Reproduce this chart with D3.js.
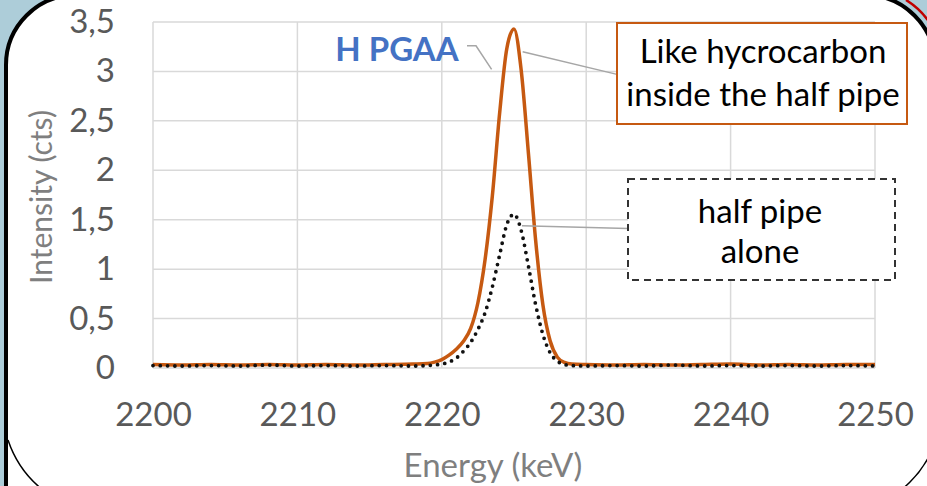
<!DOCTYPE html>
<html>
<head>
<meta charset="utf-8">
<script src="https://cdn.jsdelivr.net/npm/d3@7"></script>
<style>
  html, body { margin: 0; padding: 0; background: #adcdd9; }
  svg { display: block; }
  text { font-family: Lato, "Open Sans", sans-serif; }
</style>
</head>
<body>
<svg id="chart" width="927" height="486"></svg>
<script>
// ---------------- data ----------------
const hydroEnergy = [2200, 2202, 2204, 2206, 2208, 2210, 2212, 2214, 2216, 2218, 2219, 2219.5, 2220, 2220.5, 2221, 2221.5, 2222, 2222.5, 2223, 2223.5, 2224, 2224.5, 2225, 2225.5, 2226, 2226.5, 2227, 2227.5, 2228, 2228.5, 2229, 2230, 2232, 2234, 2236, 2238, 2240, 2242, 2244, 2246, 2248, 2250];
const hydroCounts = [0.035, 0.03, 0.035, 0.03, 0.035, 0.03, 0.035, 0.03, 0.035, 0.04, 0.045, 0.06, 0.085, 0.13, 0.19, 0.27, 0.40, 0.66, 1.10, 1.74, 2.57, 3.23, 3.43, 3.01, 2.17, 1.29, 0.64, 0.275, 0.11, 0.056, 0.04, 0.035, 0.03, 0.035, 0.03, 0.035, 0.04, 0.03, 0.035, 0.03, 0.035, 0.035];

const pipeEnergy = [2200, 2202, 2204, 2206, 2208, 2210, 2212, 2214, 2216, 2218, 2219, 2219.5, 2220, 2220.5, 2221, 2221.5, 2222, 2222.5, 2223, 2223.5, 2224, 2224.5, 2225, 2225.5, 2226, 2226.5, 2227, 2227.5, 2228, 2228.5, 2229, 2230, 2232, 2234, 2236, 2238, 2240, 2242, 2244, 2246, 2248, 2250];
const pipeCounts = [0.025, 0.02, 0.025, 0.02, 0.03, 0.02, 0.025, 0.02, 0.025, 0.02, 0.025, 0.03, 0.04, 0.06, 0.10, 0.17, 0.26, 0.39, 0.56, 0.82, 1.14, 1.45, 1.555, 1.39, 1.03, 0.64, 0.34, 0.155, 0.07, 0.035, 0.025, 0.02, 0.025, 0.02, 0.03, 0.02, 0.025, 0.02, 0.025, 0.02, 0.025, 0.02];

const xTicks = [2200, 2210, 2220, 2230, 2240, 2250];
const yTicks = [0, 0.5, 1, 1.5, 2, 2.5, 3, 3.5];
const yTickLabels = ["0", "0,5", "1", "1,5", "2", "2,5", "3", "3,5"];

const xTitle = "Energy (keV)";
const yTitle = "Intensity (cts)";
const peakLabel = "H PGAA";
const hydroNote = ["Like hycrocarbon", "inside the half pipe"];
const pipeNote = ["half pipe", "alone"];

// ---------------- drawing ----------------
const svg = d3.select("#chart");
const W = 927, H = 486;
const plot = { left: 153, right: 875, top: 22, bottom: 368 };

const x = d3.scaleLinear().domain([2200, 2250]).range([plot.left, plot.right]);
const y = d3.scaleLinear().domain([0, 3.5]).range([plot.bottom, plot.top]);

// background + slide panel
svg.append("rect").attr("width", W).attr("height", H).attr("fill", "#adcdd9");
svg.append("rect").attr("x", 6).attr("y", -5).attr("width", 929).attr("height", 620)
  .attr("rx", 70).attr("ry", 70).attr("fill", "#ffffff").attr("stroke", "#000").attr("stroke-width", 4);
svg.append("path").attr("d", "M 906 0 A 78 78 0 0 1 943 65")
  .attr("fill", "none").attr("stroke", "#c00000").attr("stroke-width", 2.5);
svg.append("path").attr("d", "M 8 440 A 107.5 107.5 0 0 0 110 513.5 L 834 513.5 A 107.5 107.5 0 0 0 941.5 406")
  .attr("fill", "none").attr("stroke", "#000").attr("stroke-width", 1.5);

// gridlines
const grid = svg.append("g").attr("stroke", "#d9d9d9").attr("stroke-width", 1.5);
grid.selectAll("line.v").data(xTicks).join("line").attr("class", "v")
  .attr("x1", d => x(d)).attr("x2", d => x(d)).attr("y1", y(3.5)).attr("y2", y(0));
grid.selectAll("line.h").data(yTicks).join("line").attr("class", "h")
  .attr("x1", x(2200)).attr("x2", x(2250)).attr("y1", d => y(d)).attr("y2", d => y(d));

// axes (labels only, Excel style)
const yAxis = d3.axisLeft(y).tickValues(yTicks).tickSize(0).tickPadding(38)
  .tickFormat((d, i) => yTickLabels[i]);
const gy = svg.append("g").attr("transform", `translate(${plot.left},0)`).call(yAxis);
gy.select(".domain").remove();
gy.selectAll("text").attr("fill", "#595959").attr("font-size", 33).attr("font-family", "Lato");

const xAxis = d3.axisBottom(x).tickValues(xTicks).tickSize(0).tickPadding(35).tickFormat(d3.format("d"));
const gx = svg.append("g").attr("transform", `translate(0,${plot.bottom})`).call(xAxis);
gx.select(".domain").remove();
gx.selectAll("text").attr("fill", "#595959").attr("font-size", 33).attr("font-family", "Lato");

// axis titles
svg.append("text").attr("x", 493).attr("y", 477).attr("text-anchor", "middle")
  .attr("fill", "#7f7f7f").attr("font-size", 33).text(xTitle);
svg.append("text").attr("transform", "translate(52,197) rotate(-90)").attr("text-anchor", "middle")
  .attr("fill", "#7f7f7f").attr("font-size", 30).text(yTitle);

// series
const hydro = hydroEnergy.map((e, i) => [e, hydroCounts[i]]);
const pipe = pipeEnergy.map((e, i) => [e, pipeCounts[i]]);
const line = d3.line().x(d => x(d[0])).y(d => y(d[1])).curve(d3.curveMonotoneX);

svg.append("path").datum(hydro).attr("d", line).attr("fill", "none")
  .attr("stroke", "#c65911").attr("stroke-width", 3.5).attr("stroke-linejoin", "round");
svg.append("path").datum(pipe).attr("d", line).attr("fill", "none")
  .attr("stroke", "#111").attr("stroke-width", 3.8).attr("stroke-linecap", "round")
  .attr("stroke-dasharray", "0 7.3");

// callouts
const leader = svg.append("g").attr("fill", "none").attr("stroke", "#a6a6a6").attr("stroke-width", 1.5);
leader.append("path").attr("d", `M 467 ${y(3.26)} L 476 ${y(3.26)} L ${x(2223.45)} ${y(3.02)}`);
leader.append("path").attr("d", `M ${x(2225.6)} ${y(3.2)} L 617 ${y(2.97)}`);
leader.append("path").attr("d", `M ${x(2225.55)} ${y(1.44)} L 628 ${y(1.41)}`);

svg.append("text").attr("x", 397).attr("y", 61).attr("text-anchor", "middle")
  .attr("fill", "#4472c4").attr("font-weight", "bold").attr("font-size", 33).text(peakLabel);

svg.append("rect").attr("x", 617).attr("y", 23).attr("width", 290).attr("height", 101)
  .attr("fill", "#fff").attr("stroke", "#c65911").attr("stroke-width", 2);
svg.selectAll("text.n1").data(hydroNote).join("text").attr("class", "n1")
  .attr("x", 763).attr("y", (d, i) => 63 + i * 43).attr("text-anchor", "middle")
  .attr("fill", "#000").attr("font-size", 33).text(d => d);

svg.append("rect").attr("x", 628).attr("y", 179).attr("width", 267).attr("height", 101)
  .attr("fill", "#fff").attr("stroke", "#333").attr("stroke-width", 2).attr("stroke-dasharray", "7 5");
svg.selectAll("text.n2").data(pipeNote).join("text").attr("class", "n2")
  .attr("x", 760).attr("y", (d, i) => 223 + i * 40).attr("text-anchor", "middle")
  .attr("fill", "#000").attr("font-size", 33).text(d => d);
</script>
</body>
</html>
